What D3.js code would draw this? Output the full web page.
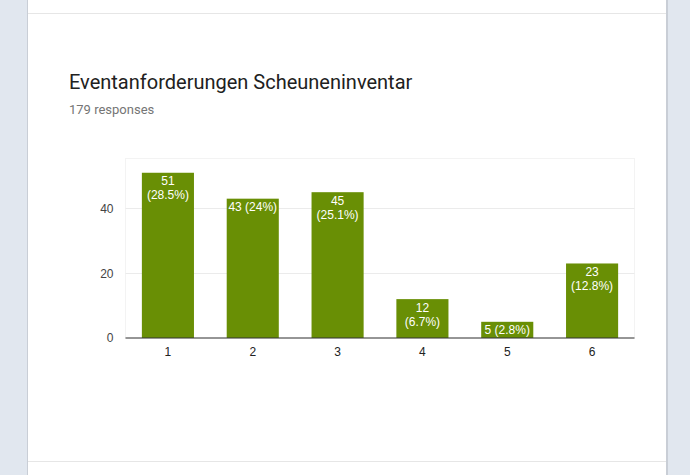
<!DOCTYPE html>
<html>
<head>
<meta charset="utf-8">
<script src="https://cdn.jsdelivr.net/npm/d3@7"></script>
<style>
  html, body { margin: 0; padding: 0; background: #e1e7ef; }
  svg { display: block; }
</style>
</head>
<body>
<svg id="chart" width="690" height="475"></svg>
<script>
const categories = ["1", "2", "3", "4", "5", "6"];
const counts = [51, 43, 45, 12, 5, 23];
const percents = ["28.5%", "24%", "25.1%", "6.7%", "2.8%", "12.8%"];
const yTicks = [0, 20, 40];
const totalResponses = 179;

const svg = d3.select("#chart");

// card
svg.append("rect").attr("x", 27).attr("y", -2).attr("width", 641).attr("height", 480)
    .attr("fill", "#c9ced6");
svg.append("rect").attr("x", 28).attr("y", -2).attr("width", 638).attr("height", 480)
    .attr("fill", "#fff");
svg.append("line").attr("x1", 28).attr("x2", 666).attr("y1", 13.5).attr("y2", 13.5)
    .attr("stroke", "#e6e6e6");
svg.append("line").attr("x1", 28).attr("x2", 666).attr("y1", 461.5).attr("y2", 461.5)
    .attr("stroke", "#e6e6e6");

svg.append("text").attr("x", 69).attr("y", 89)
    .attr("font-family", "Roboto").attr("font-size", 20).attr("fill", "#212121")
    .text("Eventanforderungen Scheuneninventar");
svg.append("text").attr("x", 69).attr("y", 114)
    .attr("font-family", "Roboto").attr("font-size", 13).attr("fill", "#757575")
    .text(`${totalResponses} responses`);

const plot = { left: 125.5, right: 634.5, top: 158.5, bottom: 338 };

const x = d3.scaleBand().domain(categories).range([plot.left, plot.right])
    .paddingInner(0.386).paddingOuter(0.193);
const y = d3.scaleLinear().domain([0, 55.4]).range([plot.bottom, plot.top]);

// plot frame
svg.append("rect").attr("x", plot.left).attr("y", plot.top)
    .attr("width", plot.right - plot.left).attr("height", plot.bottom - plot.top)
    .attr("fill", "none").attr("stroke", "#f3f3f3");

// gridlines
svg.append("g").selectAll("line").data(yTicks.filter(d => d > 0)).join("line")
    .attr("x1", plot.left).attr("x2", plot.right)
    .attr("y1", d => Math.round(y(d)) + 0.5).attr("y2", d => Math.round(y(d)) + 0.5)
    .attr("stroke", "#ebebeb");

// y axis labels
const yAxis = d3.axisLeft(y).tickValues(yTicks).tickSize(0).tickPadding(12);
svg.append("g").attr("transform", `translate(${plot.left},0)`).call(yAxis)
    .call(g => g.select(".domain").remove())
    .selectAll("text")
    .attr("font-family", "Liberation Sans, Arial").attr("font-size", 12).attr("fill", "#444");

// bars
svg.append("g").selectAll("rect").data(counts).join("rect")
    .attr("x", (d, i) => x(categories[i]))
    .attr("y", d => y(d))
    .attr("width", x.bandwidth())
    .attr("height", d => y(0) - y(d))
    .attr("fill", "#698f05");

// bar labels, wrapped onto two lines when they don't fit
const labels = svg.append("g")
    .attr("font-family", "Liberation Sans, Arial").attr("font-size", 12)
    .attr("fill", "#fff").attr("text-anchor", "middle");
counts.forEach((d, i) => {
    const cx = x(categories[i]) + x.bandwidth() / 2;
    const t = labels.append("text").attr("x", cx).attr("y", y(d) + 12.5);
    t.text(`${d} (${percents[i]})`);
    if (t.node().getComputedTextLength() > x.bandwidth() - 2) {
        t.text(null);
        t.append("tspan").attr("x", cx).text(d);
        t.append("tspan").attr("x", cx).attr("dy", 14).text(`(${percents[i]})`);
    }
});

// baseline
svg.append("line").attr("x1", plot.left).attr("x2", plot.right)
    .attr("y1", plot.bottom).attr("y2", plot.bottom)
    .attr("stroke", "#333").attr("stroke-width", 1);

// x axis labels
const xAxis = d3.axisBottom(x).tickSize(0).tickPadding(9);
svg.append("g").attr("transform", `translate(0,${plot.bottom})`).call(xAxis)
    .call(g => g.select(".domain").remove())
    .selectAll("text")
    .attr("font-family", "Liberation Sans, Arial").attr("font-size", 12).attr("fill", "#222");
</script>
</body>
</html>
